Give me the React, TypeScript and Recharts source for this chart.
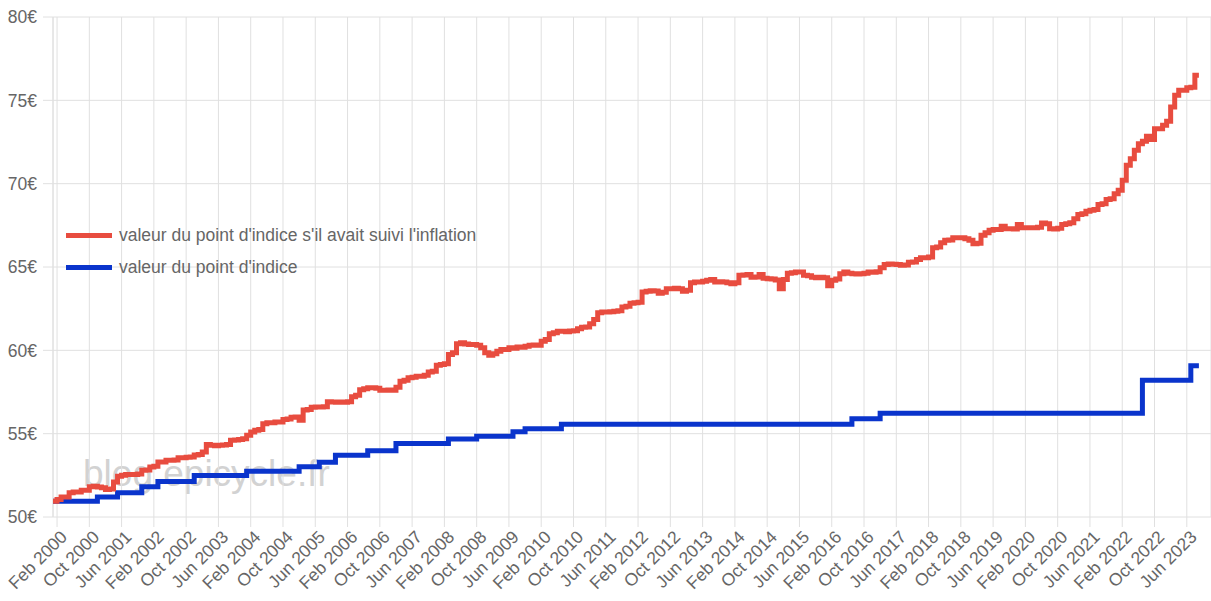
import { LineChart, Line, XAxis, YAxis, CartesianGrid, ReferenceLine } from "recharts"

const MONTHS = ["Jan", "Feb", "Mar", "Apr", "May", "Jun", "Jul", "Aug", "Sep", "Oct", "Nov", "Dec"]

// first month of the series
const startLabel = "Jan 2000"

// valeur du point d'indice s'il avait suivi l'inflation, one value per month from Jan 2000
const inflationValues = [
  // 2000
  50.95, 51.05, 51.2, 51.2, 51.45, 51.5, 51.5, 51.6, 51.6, 51.82, 51.85, 51.8,
  // 2001
  51.75, 51.65, 51.68, 52.1, 52.45, 52.5, 52.55, 52.55, 52.55, 52.58, 52.8, 52.82,
  // 2002
  53.0, 53.05, 53.3, 53.3, 53.4, 53.4, 53.42, 53.55, 53.56, 53.58, 53.6, 53.72,
  // 2003
  53.75, 53.9, 54.35, 54.3, 54.28, 54.3, 54.32, 54.35, 54.6, 54.62, 54.65, 54.7,
  // 2004
  54.9, 55.1, 55.2, 55.25, 55.6, 55.65, 55.65, 55.7, 55.7, 55.85, 55.88, 55.98,
  // 2005
  56.0, 55.8, 56.42, 56.45, 56.58, 56.6, 56.6, 56.62, 56.92, 56.9, 56.88, 56.9,
  // 2006
  56.88, 56.92, 57.22, 57.3, 57.64, 57.7, 57.76, 57.75, 57.72, 57.6, 57.6, 57.62,
  // 2007
  57.6, 57.78, 58.15, 58.2, 58.35, 58.38, 58.44, 58.45, 58.5, 58.7, 58.75, 59.1,
  // 2008
  59.15, 59.2, 59.75, 59.85, 60.4, 60.45, 60.38, 60.35, 60.35, 60.3, 60.15, 59.85,
  // 2009
  59.7, 59.8, 59.95, 60.05, 60.05, 60.15, 60.12, 60.2, 60.18, 60.25, 60.3, 60.32,
  // 2010
  60.3, 60.55, 60.65, 61.0, 61.05, 61.15, 61.15, 61.12, 61.16, 61.18, 61.3, 61.38,
  // 2011
  61.4, 61.6, 61.85, 62.25, 62.3, 62.3, 62.32, 62.35, 62.38, 62.6, 62.65, 62.82,
  // 2012
  62.85, 62.88, 63.5, 63.55, 63.58, 63.56, 63.42, 63.48, 63.7, 63.7, 63.72, 63.7,
  // 2013
  63.55, 63.6, 64.05, 64.1, 64.1, 64.15, 64.2, 64.25, 64.1, 64.12, 64.1, 64.05,
  // 2014
  64.0, 64.05, 64.5, 64.52, 64.55, 64.38, 64.4, 64.55, 64.32, 64.3, 64.28, 64.22,
  // 2015
  63.7, 64.25, 64.62, 64.65, 64.7, 64.7, 64.5, 64.48, 64.38, 64.36, 64.38, 64.35,
  // 2016
  63.88, 64.2, 64.28, 64.6, 64.7, 64.62, 64.6, 64.58, 64.6, 64.62, 64.7, 64.68,
  // 2017
  64.72, 64.95, 65.15, 65.18, 65.16, 65.15, 65.1, 65.12, 65.28, 65.3, 65.45, 65.55,
  // 2018
  65.55, 65.6, 66.15, 66.2, 66.45, 66.6, 66.62, 66.76, 66.76, 66.75, 66.7, 66.6,
  // 2019
  66.4, 66.42, 66.9, 67.05, 67.2, 67.25, 67.25, 67.45, 67.3, 67.3, 67.28, 67.55,
  // 2020
  67.35, 67.36, 67.36, 67.35, 67.38, 67.64, 67.6, 67.3, 67.28, 67.32, 67.55, 67.6,
  // 2021
  67.65, 67.9, 68.15, 68.2, 68.35, 68.4, 68.45, 68.75, 68.8, 69.05, 69.1, 69.4,
  // 2022
  69.6, 70.2, 71.1, 71.5, 72.0, 72.4, 72.55, 72.85, 72.65, 73.3, 73.3, 73.5,
  // 2023
  73.75, 74.6, 75.3, 75.6, 75.6, 75.75, 75.78, 76.5, 76.5,
]

// valeur du point d'indice: month of each revaluation and the new value
const pointChangeMonths = [
  "Jan 2000", "Dec 2000", "May 2001", "Nov 2001", "Mar 2002", "Dec 2002", "Jan 2004",
  "Feb 2005", "Jul 2005", "Nov 2005", "Jul 2006", "Feb 2007", "Mar 2008", "Oct 2008",
  "Jul 2009", "Oct 2009", "Jul 2010", "Jul 2016", "Feb 2017", "Jul 2022", "Jul 2023",
]
const pointValues = [
  50.95, 51.2, 51.46, 51.82, 52.13, 52.49, 52.75,
  53.01, 53.28, 53.7, 53.97, 54.41, 54.68, 54.85,
  55.12, 55.29, 55.56, 55.9, 56.23, 58.2, 59.07,
]

const xTickLabels = [
  "Feb 2000", "Oct 2000", "Jun 2001", "Feb 2002", "Oct 2002", "Jun 2003", "Feb 2004",
  "Oct 2004", "Jun 2005", "Feb 2006", "Oct 2006", "Jun 2007", "Feb 2008", "Oct 2008",
  "Jun 2009", "Feb 2010", "Oct 2010", "Jun 2011", "Feb 2012", "Oct 2012", "Jun 2013",
  "Feb 2014", "Oct 2014", "Jun 2015", "Feb 2016", "Oct 2016", "Jun 2017", "Feb 2018",
  "Oct 2018", "Jun 2019", "Feb 2020", "Oct 2020", "Jun 2021", "Feb 2022", "Oct 2022",
  "Jun 2023",
]
const yTicks = [50, 55, 60, 65, 70, 75, 80]

const seriesNames = ["valeur du point d'indice s'il avait suivi l'inflation", "valeur du point d'indice"]
const RED = "#e84c3f"
const BLUE = "#0a34cc"
const GRID = "#e0e0e0"
const TEXT = "#666"
const FONT = "Arial, 'Liberation Sans', sans-serif"
const FS = 17.5

const toIndex = (label: string) => {
  const [mon, year] = label.split(" ")
  const start = startLabel.split(" ")
  return (Number(year) - Number(start[1])) * 12 + MONTHS.indexOf(mon) - MONTHS.indexOf(start[0])
}
const toLabel = (m: number) => {
  const [mon, year] = startLabel.split(" ")
  const k = m + MONTHS.indexOf(mon)
  return `${MONTHS[k % 12]} ${Number(year) + Math.floor(k / 12)}`
}

const changeIdx = pointChangeMonths.map(toIndex)
const pointAt = (m: number) => {
  let v = pointValues[0]
  changeIdx.forEach((c, i) => {
    if (c <= m) v = pointValues[i]
  })
  return v
}

const data = inflationValues.map((v, m) => ({ m, inflation: v, point: pointAt(m) }))
const xTicks = xTickLabels.map(toIndex)

const MonthTick = ({ x, y, payload }: any) => {
  const tx = x + 11
  const ty = y + 11
  return (
    <text x={tx} y={ty} transform={`rotate(-45 ${tx} ${ty})`} textAnchor="end" fill={TEXT} fontSize={FS} fontFamily={FONT}>
      {toLabel(payload.value)}
    </text>
  )
}

export default function App() {
  return (
    <div style={{ position: "absolute", left: 0, top: 0, width: 1211, height: 601, background: "#fff" }}>
      <div
        style={{
          position: "absolute",
          left: 83,
          top: 452,
          fontFamily: FONT,
          fontSize: 37,
          color: "#d2d2d2",
          lineHeight: "44px",
          whiteSpace: "nowrap",
        }}
      >
        blog.epicycle.fr
      </div>
      <div style={{ position: "absolute", left: 0, top: 0 }}>
        <LineChart width={1211} height={601} data={data} margin={{ top: 17, right: 0, left: 0, bottom: 0 }}>
          <CartesianGrid stroke={GRID} strokeWidth={1} />
          <ReferenceLine x={0} stroke={GRID} />
          <XAxis
            dataKey="m"
            type="number"
            domain={[0, 287]}
            ticks={xTicks}
            interval={0}
            height={84}
            axisLine={false}
            tickLine={{ stroke: GRID }}
            tickSize={10}
            tickMargin={0}
            tick={<MonthTick />}
            allowDataOverflow
          />
          <YAxis
            type="number"
            domain={[50, 80]}
            ticks={yTicks}
            width={53}
            axisLine={false}
            tickLine={{ stroke: GRID }}
            tickSize={10}
            tickMargin={6}
            tickFormatter={(v: number) => `${v}€`}
            tick={{ fill: TEXT, fontSize: FS, fontFamily: FONT }}
            allowDataOverflow
          />
          <Line type="stepAfter" dataKey="point" stroke={BLUE} strokeWidth={5} dot={false} isAnimationActive={false} />
          <Line type="stepAfter" dataKey="inflation" stroke={RED} strokeWidth={5} dot={false} isAnimationActive={false} />
        </LineChart>
      </div>
      <div style={{ position: "absolute", left: 66, top: 224, fontFamily: FONT, fontSize: FS, color: TEXT }}>
        {[RED, BLUE].map((c, i) => (
          <div key={i} style={{ display: "flex", alignItems: "center", height: 22, marginBottom: i === 0 ? 10 : 0, whiteSpace: "nowrap" }}>
            <span style={{ display: "inline-block", width: 46, height: 5, background: c, marginRight: 7 }} />
            <span>{seriesNames[i]}</span>
          </div>
        ))}
      </div>
    </div>
  )
}
